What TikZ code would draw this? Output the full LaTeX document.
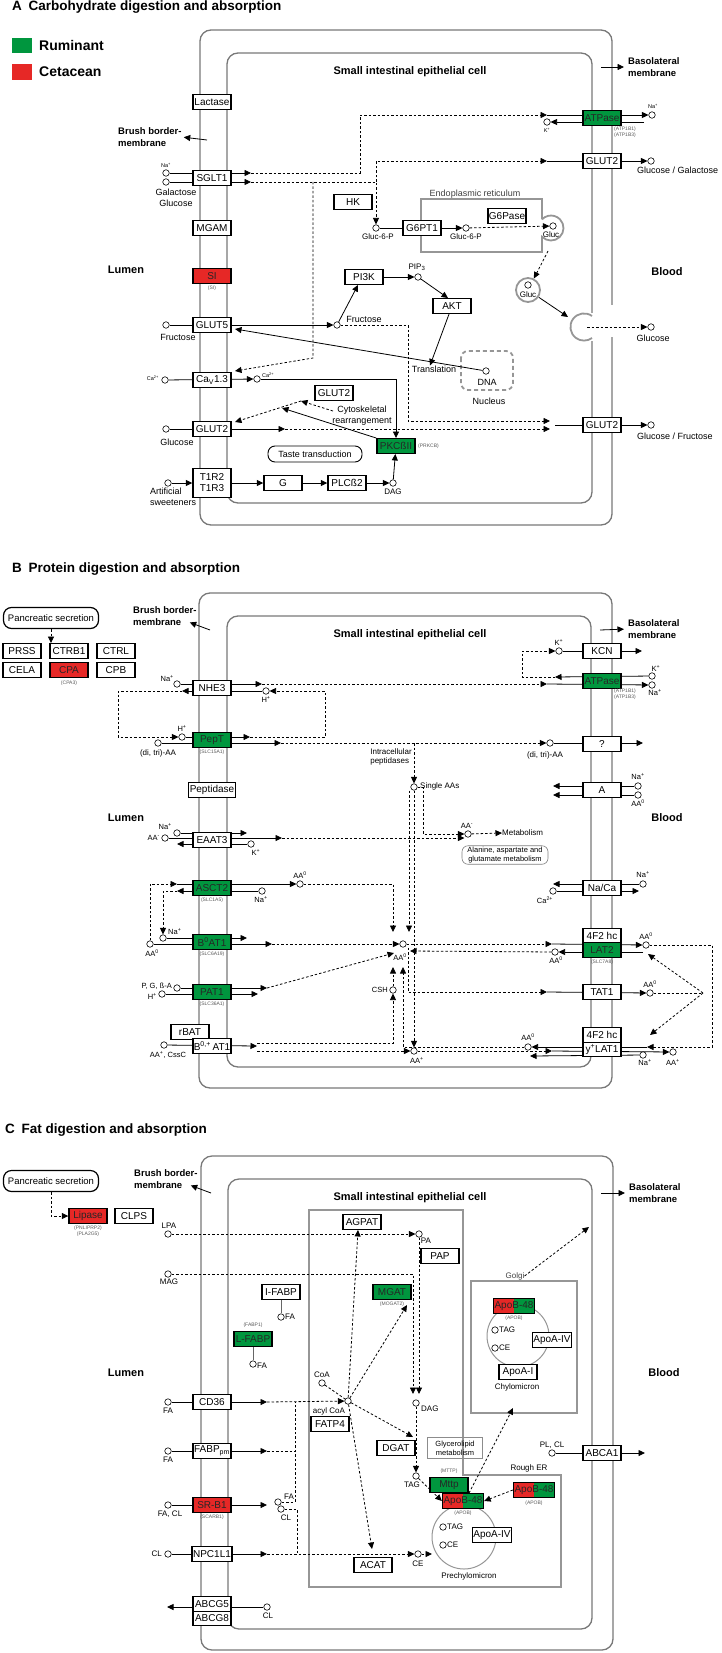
\documentclass[tikz,border=0pt]{standalone}
\usepackage{fontspec}
\setmainfont{Liberation Sans}
\usetikzlibrary{arrows.meta,positioning,backgrounds}
\definecolor{rumgreen}{RGB}{0,150,62}
\definecolor{cetred}{RGB}{230,40,38}
\definecolor{membgray}{RGB}{120,120,120}
\definecolor{orggray}{RGB}{150,150,150}

\begin{document}
\begin{tikzpicture}[x=1pt, y=-1pt,
    box/.style={rectangle, draw=black, line width=1.4pt, fill=white, minimum width=38pt, minimum height=14.5pt, inner xsep=1pt, inner ysep=0pt, font=\fontsize{10}{11}\selectfont},
    rum/.style={box, fill=rumgreen, text=black!85},
    cet/.style={box, fill=cetred, text=black!85},
    apob/.style={box, fill=rumgreen, text=black!85, path picture={\fill[cetred] (path picture bounding box.north west) rectangle ([xshift=20pt]path picture bounding box.south west);}},
    mol/.style={circle, draw=black, line width=0.6pt, fill=white, minimum size=6.5pt, inner sep=0pt},
    lab/.style={font=\fontsize{9}{11}\selectfont, inner sep=0pt, align=center},
    sm/.style={font=\fontsize{8}{9.5}\selectfont, inner sep=0pt, align=center},
    ion/.style={font=\fontsize{7.5}{8}\selectfont, inner sep=0pt},
    ionA/.style={font=\fontsize{5.5}{6}\selectfont, inner sep=0pt},
    gene/.style={font=\fontsize{5}{5.5}\selectfont, inner sep=0pt, align=center, text=black!65},
    hdr/.style={font=\bfseries\fontsize{9.5}{11.5}\selectfont, inner sep=0pt, align=left, anchor=west},
    zone/.style={font=\bfseries\fontsize{11}{13}\selectfont, inner sep=0pt},
    ttl/.style={font=\bfseries\fontsize{13.5}{16}\selectfont, inner sep=0pt, anchor=base west},
    keylab/.style={font=\bfseries\fontsize{14}{16}\selectfont, inner sep=0pt, anchor=west},
    pathway/.style={draw, rounded corners=8pt, line width=1.2pt, minimum width=95pt, minimum height=21pt, font=\fontsize{9.5}{10}\selectfont},
    arr/.style={-{Triangle[length=6.5pt,width=6pt]}, line width=0.8pt},
    dline/.style={line width=0.8pt, dash pattern=on 2.5pt off 2pt},
    dsh/.style={arr, dash pattern=on 2.5pt off 2pt},
    memb/.style={draw=membgray, line width=1.3pt, rounded corners=11pt},
    org/.style={draw=orggray, line width=1.8pt}
]
\useasboundingbox (0,0) rectangle (721,1653);

\node[ttl] (tA) at (12,10.5) {A\enspace Carbohydrate digestion and absorption};
\node[fill=rumgreen, minimum width=20pt, minimum height=15pt, inner sep=0pt] (kRum) at (22,45.5) {};
\node[keylab] (lRum) at (39,45.5) {Ruminant};
\node[fill=cetred, minimum width=20pt, minimum height=16pt, inner sep=0pt] (kCet) at (22,72) {};
\node[keylab] (lCet) at (39,72) {Cetacean};

\node[zone] (cellA) at (410,72) {Small intestinal epithelial cell};
\node[zone] (lumA) at (126,270) {Lumen};
\node[zone] (bldA) at (667,272) {Blood};
\node[hdr] (bbA) at (118,137) {Brush border-\\membrane};
\node[hdr] (blA) at (628,67) {Basolateral\\membrane};

\node[box] (lac) at (212,102) {Lactase};
\node[box] (sglt) at (212,178) {SGLT1};
\node[box] (mgam) at (212,228) {MGAM};
\node[cet] (si) at (212,276) {SI};
\node[gene, below=2pt of si] (siG) {(SI)};
\node[box] (glut5) at (212,325) {GLUT5};
\node[box] (cav) at (212,380) {Ca\textsubscript{V}1.3};
\node[box] (glut2L) at (212,429) {GLUT2};
\node[box, minimum height=29pt, align=center] (t1r) at (212,483) {T1R2\\T1R3};
\node[rum] (atpA) at (602,118) {ATPase};
\node[gene, anchor=west] (atpAG) at (614,132) {(ATP1B1)\\(ATP1B3)};
\node[box] (glut2T) at (602,161) {GLUT2};
\node[box] (glut2B) at (602,425) {GLUT2};

\node[box] (hk) at (353,202) {HK};
\node[box] (g6pt) at (422,228) {G6PT1};
\node[box] (g6pase) at (507,216) {G6Pase};
\node[box] (pi3k) at (364,277) {PI3K};
\node[box] (akt) at (452,306) {AKT};
\node[box] (glut2I) at (334,393) {GLUT2};
\node[rum] (pkc) at (396,446) {PKCßII};
\node[gene, anchor=west] (pkcG) at (418,446) {(PRKCB)};
\node[box] (gp) at (283,483) {G};
\node[box] (plc) at (347,483) {PLCß2};
\node[pathway, minimum width=94pt, minimum height=16pt, rounded corners=7pt, line width=0.9pt, font=\fontsize{9}{10}\selectfont] (taste) at (315,454) {Taste transduction};

\node[mol] (naA) at (166,173) {};
\node[ionA] (naAl) at (166,165) {Na\textsuperscript{+}};
\node[mol] (galA) at (166,182) {};
\node[lab] (galAl) at (176,198) {Galactose\\Glucose};
\node[mol] (kA) at (547,122) {};
\node[ionA] (kAl) at (547,130) {K\textsuperscript{+}};
\node[mol] (naA2) at (652,115) {};
\node[ionA] (naA2l) at (653,106) {Na\textsuperscript{+}};
\node[mol] (ggA) at (651,161) {};
\node[lab, anchor=west] (ggAl) at (637,170) {Glucose / Galactose};
\node[mol] (g6pA) at (376,228) {};
\node[sm] (g6pAl) at (378,237) {Gluc-6-P};
\node[mol] (g6pB) at (466,228) {};
\node[sm] (g6pBl) at (466,237) {Gluc-6-P};
\node[mol] (glucE) at (553,226) {};
\node[sm] (glucEl) at (551,235) {Gluc};
\node[lab, text=black!75] (erl) at (475,194) {Endoplasmic reticulum};
\node[circle, org, minimum size=24pt, inner sep=0pt] (ves) at (528,290) {};
\node[mol] (glucV) at (528,285) {};
\node[sm] (glucVl) at (528,295) {Gluc};
\node[mol] (pip) at (418,277) {};
\node[sm] (pipl) at (417,267) {PIP\textsubscript{3}};
\node[mol] (fruL) at (166,325) {};
\node[lab] (fruLl) at (178,337) {Fructose};
\node[mol] (fruI) at (337,325) {};
\node[lab] (fruIl) at (364,319) {Fructose};
\node[mol] (dna) at (486,371) {};
\node[lab] (dnal) at (487,382) {DNA};
\node[lab] (nucl) at (489,401) {Nucleus};
\node[lab] (trl) at (434,369) {Translation};
\node[mol] (caL) at (165,380) {};
\node[ionA, anchor=east] (caLl) at (159,378) {Ca\textsuperscript{2+}};
\node[mol] (caR) at (257,379) {};
\node[ionA, anchor=west] (caRl) at (262,375) {Ca\textsuperscript{2+}};
\node[lab] (cyt) at (362,416) {Cytoskeletal\\rearrangement};
\node[mol] (glcL) at (166,429) {};
\node[lab] (glcLl) at (177,442) {Glucose};
\node[mol] (glcO) at (651,327) {};
\node[lab] (glcOl) at (653,338) {Glucose};
\node[mol] (gfO) at (651,425) {};
\node[lab, anchor=west] (gfOl) at (637,436) {Glucose / Fructose};
\node[mol] (art) at (168,483) {};
\node[lab, align=left, anchor=north west] (artl) at (150,488) {Artificial\\sweeteners};
\node[mol] (dag) at (393,483) {};
\node[sm] (dagl) at (393,492) {DAG};

\node[ttl] (tB) at (12,572) {B\enspace Protein digestion and absorption};
\node[pathway] (pancB) at (51,618) {Pancreatic secretion};
\node[box] (prss) at (22,651) {PRSS};
\node[box] (ctrb) at (69,651) {CTRB1};
\node[box] (ctrl) at (116,651) {CTRL};
\node[box] (cela) at (22,670) {CELA};
\node[cet] (cpa) at (69,670) {CPA};
\node[gene, below=3pt of cpa] (cpaG) {(CPA3)};
\node[box] (cpb) at (116,670) {CPB};
\node[zone] (cellB) at (410,635) {Small intestinal epithelial cell};
\node[zone] (lumB) at (126,818) {Lumen};
\node[zone] (bldB) at (667,818) {Blood};
\node[hdr] (bbB) at (133,616) {Brush border-\\membrane};
\node[hdr] (blB) at (628,629) {Basolateral\\membrane};

\node[box] (nhe) at (212,688) {NHE3};
\node[rum] (pept) at (212,740) {PepT};
\node[gene, below=2pt of pept] (peptG) {(SLC15A1)};
\node[box, minimum width=47pt] (pepd) at (212,790) {Peptidase};
\node[box] (eaat) at (212,840) {EAAT3};
\node[rum] (asct) at (212,888) {ASCT2};
\node[gene, below=2pt of asct] (asctG) {(SLC1A5)};
\node[rum] (b0at) at (212,942) {B\textsuperscript{0}AT1};
\node[gene, below=2pt of b0at] (b0atG) {(SLC6A19)};
\node[rum] (pat) at (212,992) {PAT1};
\node[gene, below=2pt of pat] (patG) {(SLC36A1)};
\node[box] (rbat) at (190,1032) {rBAT};
\node[box] (b0p) at (212,1046) {B\textsuperscript{0,+}\,AT1};
\node[box] (kcn) at (602,651) {KCN};
\node[rum] (atpB) at (602,681) {ATPase};
\node[gene, anchor=west] (atpBG) at (614,694) {(ATP1B1)\\(ATP1B3)};
\node[box] (unk) at (602,744) {?};
\node[box] (abx) at (602,790) {A};
\node[box] (naca) at (602,888) {Na/Ca};
\node[box] (f2a) at (602,935.5) {4F2 hc};
\node[rum] (lat2) at (602,950) {LAT2};
\node[gene, below=2pt of lat2] (lat2G) {(SLC7A8)};
\node[box] (tat) at (602,992) {TAT1};
\node[box] (f2b) at (602,1035) {4F2 hc};
\node[box] (ylat) at (602,1049.5) {y\textsuperscript{+}LAT1};

\node[mol] (naB1) at (177,684) {};
\node[ion, anchor=east] (naB1l) at (174,679) {Na\textsuperscript{+}};
\node[mol] (hB1) at (266,691) {};
\node[ion] (hB1l) at (266,699) {H\textsuperscript{+}};
\node[mol] (hB2) at (182,737) {};
\node[ion] (hB2l) at (182,728) {H\textsuperscript{+}};
\node[mol] (dtL) at (158,743) {};
\node[sm] (dtLl) at (158,753) {(di, tri)-AA};
\node[mol] (dtR) at (550,743) {};
\node[sm] (dtRl) at (545,755) {(di, tri)-AA};
\node[mol] (kB1) at (559,651) {};
\node[ion] (kB1l) at (559,642) {K\textsuperscript{+}};
\node[mol] (kB2) at (652,676) {};
\node[ion] (kB2l) at (656,668) {K\textsuperscript{+}};
\node[mol] (naB2) at (652,685) {};
\node[ion] (naB2l) at (655,693) {Na\textsuperscript{+}};
\node[sm, align=left] (ipep) at (391,757) {Intracellular\\peptidases};
\node[mol] (sAA) at (414,787) {};
\node[sm, anchor=west] (sAAl) at (420,786) {Single AAs};
\node[mol] (aam) at (468,834) {};
\node[ion] (aaml) at (467,826) {AA\textsuperscript{-}};
\node[sm, anchor=west] (metab) at (502,833) {Metabolism};
\node[draw=black!50, line width=0.6pt, rounded corners=6pt, font=\fontsize{7.5}{8.5}\selectfont, align=center, inner sep=1.5pt, minimum width=86pt] (aag) at (505,855) {Alanine, aspartate and\\glutamate metabolism};
\node[mol] (naB3) at (177,833) {};
\node[ion, anchor=east] (naB3l) at (172,827) {Na\textsuperscript{+}};
\node[mol] (aaB1) at (165,838) {};
\node[ion, anchor=east] (aaB1l) at (160,838) {AA\textsuperscript{-}};
\node[mol] (kB3) at (251,844) {};
\node[ion] (kB3l) at (256,852) {K\textsuperscript{+}};
\node[mol] (aa0B1) at (300,884) {};
\node[ion] (aa0B1l) at (300,875) {AA\textsuperscript{0}};
\node[mol] (naB4) at (262,891) {};
\node[ion] (naB4l) at (261,900) {Na\textsuperscript{+}};
\node[mol] (naB5) at (163,938) {};
\node[ion, anchor=west] (naB5l) at (168,932) {Na\textsuperscript{+}};
\node[mol] (aa0B2) at (150,944) {};
\node[ion] (aa0B2l) at (152,953) {AA\textsuperscript{0}};
\node[mol] (pgb) at (177,988) {};
\node[ion, anchor=east] (pgbl) at (172,986) {P, G, ß-A};
\node[mol] (hB3) at (162,994) {};
\node[ion, anchor=east] (hB3l) at (157,996) {H\textsuperscript{+}};
\node[mol] (aapc) at (164,1045) {};
\node[ion] (aapcl) at (168,1055) {AA\textsuperscript{+}, CssC};
\node[mol] (naB6) at (638,786) {};
\node[ion] (naB6l) at (638,777) {Na\textsuperscript{+}};
\node[mol] (aa0B3) at (638,795) {};
\node[ion] (aa0B3l) at (638,803) {AA\textsuperscript{0}};
\node[mol] (naB7) at (643,884) {};
\node[ion] (naB7l) at (643,875) {Na\textsuperscript{+}};
\node[mol] (caB) at (553,891) {};
\node[ion] (caBl) at (545,900) {Ca\textsuperscript{2+}};
\node[mol] (cent) at (403,944) {};
\node[ion] (centl) at (400,957) {AA\textsuperscript{0}};
\node[mol] (csh) at (393,990) {};
\node[ion, anchor=east] (cshl) at (388,990) {CSH};
\node[mol] (aa0L) at (555,952) {};
\node[ion] (aa0Ll) at (556,960) {AA\textsuperscript{0}};
\node[mol] (aa0R) at (646,945) {};
\node[ion] (aa0Rl) at (646,936) {AA\textsuperscript{0}};
\node[mol] (aa0T) at (650,993) {};
\node[ion] (aa0Tl) at (650,984) {AA\textsuperscript{0}};
\node[mol] (aapB) at (414,1051) {};
\node[ion] (aapBl) at (417,1060) {AA\textsuperscript{+}};
\node[mol] (aa0Y) at (528,1047) {};
\node[ion] (aa0Yl) at (528,1037) {AA\textsuperscript{0}};
\node[mol] (aapR) at (673,1052) {};
\node[ion] (aapRl) at (673,1062) {AA\textsuperscript{+}};
\node[mol] (naB8) at (643,1055) {};
\node[ion] (naB8l) at (645,1063) {Na\textsuperscript{+}};

\node[ttl] (tC) at (5,1133) {C\enspace Fat digestion and absorption};
\node[pathway] (pancC) at (51,1181) {Pancreatic secretion};
\node[cet] (lip) at (88,1216) {Lipase};
\node[gene, below=2pt of lip] (lipG) {(PNLIPRP2)\\(PLA2G5)};
\node[box] (clps) at (134,1216) {CLPS};
\node[zone] (cellC) at (410,1198) {Small intestinal epithelial cell};
\node[zone] (lumC) at (126,1373) {Lumen};
\node[zone] (bldC) at (664,1373) {Blood};
\node[hdr] (bbC) at (134,1179) {Brush border-\\membrane};
\node[hdr] (blC) at (629,1193) {Basolateral\\membrane};

\node[circle, draw=orggray, line width=1pt, minimum size=62pt, inner sep=0pt] (chylo) at (518,1336) {};
\node[circle, draw=orggray, line width=1pt, minimum size=64pt, inner sep=0pt] (pre) at (464,1537) {};
\node[mol] (lpa) at (168,1234) {};
\node[sm] (lpal) at (169,1226) {LPA};
\node[mol] (mag) at (168,1274) {};
\node[sm] (magl) at (169,1282) {MAG};
\node[box] (agpat) at (362,1222) {AGPAT};
\node[mol] (pa) at (419,1234) {};
\node[sm] (pal) at (426,1241) {PA};
\node[box] (pap) at (440,1256) {PAP};
\node[box] (ifabp) at (281,1292) {I-FABP};
\node[mol] (fa1) at (281,1317) {};
\node[sm, anchor=west] (fa1l) at (285,1317) {FA};
\node[rum] (lfabp) at (253,1339) {L-FABP};
\node[gene, above=3pt of lfabp] (lfabpG) {(FABP1)};
\node[mol] (fa2) at (253,1364) {};
\node[sm, anchor=west] (fa2l) at (257,1366) {FA};
\node[rum] (mgat) at (392,1292) {MGAT};
\node[gene, below=2pt of mgat] (mgatG) {(MOGAT2)};
\node[mol] (coa) at (322,1383) {};
\node[sm] (coal) at (322,1375) {CoA};
\node[mol] (acoa) at (348,1401) {};
\node[sm] (acoal) at (329,1411) {acyl CoA};
\node[box] (fatp) at (330,1424) {FATP4};
\node[mol] (dag2) at (416,1403) {};
\node[sm, anchor=west] (dag2l) at (421,1409) {DAG};
\node[box] (dgat) at (396,1448) {DGAT};
\node[draw=black!45, line width=0.9pt, font=\fontsize{7.5}{9}\selectfont, align=center, minimum width=55pt, minimum height=21pt, inner sep=1pt] (glm) at (455,1448) {Glycerolipid\\metabolism};
\node[mol] (tag1) at (416,1476) {};
\node[sm] (tag1l) at (412,1485) {TAG};
\node[rum] (mttp) at (449,1485) {Mttp};
\node[gene, above=3pt of mttp] (mttpG) {(MTTP)};
\node[apob] (apo1) at (463,1501) {ApoB-48};
\node[gene, below=2pt of apo1] (apo1G) {(APOB)};
\node[apob] (apo2) at (534,1490) {ApoB-48};
\node[gene, below=3pt of apo2] (apo2G) {(APOB)};
\node[mol] (tag2) at (443,1527) {};
\node[sm, anchor=west] (tag2l) at (447,1527) {TAG};
\node[mol] (ce2) at (443,1545) {};
\node[sm, anchor=west] (ce2l) at (447,1545) {CE};
\node[box] (apo4b) at (492,1535) {ApoA-IV};
\node[sm] (prel) at (469,1576) {Prechylomicron};
\node[mol] (ce1) at (418,1554) {};
\node[sm] (ce1l) at (418,1564) {CE};
\node[box] (acat) at (373,1565) {ACAT};
\node[sm, text=black!75] (golgl) at (515,1276) {Golgi};
\node[apob] (apo3) at (514,1306) {ApoB-48};
\node[gene, below=2pt of apo3] (apo3G) {(APOB)};
\node[mol] (tag3) at (495,1330) {};
\node[sm, anchor=west] (tag3l) at (499,1330) {TAG};
\node[mol] (ce3) at (495,1348) {};
\node[sm, anchor=west] (ce3l) at (499,1348) {CE};
\node[box] (apo4a) at (552,1340) {ApoA-IV};
\node[box] (apo1a) at (518,1372) {ApoA-I};
\node[sm] (chyl) at (517,1387) {Chylomicron};
\node[sm] (rerl) at (529,1468) {Rough ER};

\node[box] (cd36) at (212,1402) {CD36};
\node[box] (fabp) at (212,1451) {FABP\textsubscript{pm}};
\node[cet] (srb) at (212,1505) {SR-B1};
\node[gene, below=2pt of srb] (srbG) {(SCARB1)};
\node[box] (npc) at (212,1554) {NPC1L1};
\node[box] (abcg5) at (212,1604) {ABCG5};
\node[box] (abcg8) at (212,1618.5) {ABCG8};
\node[box] (abca) at (602,1453) {ABCA1};
\node[mol] (fa3) at (168,1402) {};
\node[sm] (fa3l) at (168,1411) {FA};
\node[mol] (fa4) at (168,1451) {};
\node[sm] (fa4l) at (168,1460) {FA};
\node[mol] (facl) at (168,1505) {};
\node[sm] (facll) at (170,1514) {FA, CL};
\node[mol] (cl1) at (168,1554) {};
\node[sm, anchor=east] (cl1l) at (162,1554) {CL};
\node[mol] (cl2) at (267,1607) {};
\node[sm] (cl2l) at (268,1616) {CL};
\node[mol] (fa5) at (278,1502) {};
\node[sm] (fa5l) at (289,1497) {FA};
\node[mol] (cl3) at (281,1509) {};
\node[sm] (cl3l) at (286,1518) {CL};
\node[mol] (plcl) at (552,1453) {};
\node[sm] (plcll) at (552,1445) {PL, CL};

\coordinate (sgA1) at (251,173);
\coordinate (sgA2) at (251,182);
\coordinate (atpA1) at (547,115);
\coordinate (atpA4) at (644,122);
\coordinate (glA1) at (547,161);
\coordinate (cavA1) at (235,371);
\coordinate (jA1) at (313,182);
\coordinate (g5A1) at (235,329);
\coordinate (erA1) at (548,251);
\coordinate (exoA1) at (568,317);
\coordinate (exoA2) at (587,327);
\coordinate (gcA1) at (550,421);
\coordinate (gcA2) at (550,429);
\coordinate (gcA3) at (555,425);
\coordinate (glA2) at (285,429);
\coordinate (cytA1) at (282,408);
\coordinate (cytA2) at (301,401);
\coordinate (cytA3) at (333,411);
\coordinate (g2A1) at (235,422);
\coordinate (bbA1) at (207,140);
\coordinate (blA1) at (601,67);

\coordinate (bbB1) at (210,630);
\coordinate (blB1) at (600,630);
\coordinate (nhe1) at (262,684);
\coordinate (nhe2) at (182,691);
\coordinate (pep1) at (250,737);
\coordinate (pep2) at (281,743);
\coordinate (atpB1) at (547,684);
\coordinate (atpB2) at (555,677);
\coordinate (kcn1) at (642,651);
\coordinate (unk1) at (643,743);
\coordinate (abx1) at (553,786);
\coordinate (abx2) at (553,795);
\coordinate (ea1) at (247,833);
\coordinate (ea2) at (282,838);
\coordinate (ea3) at (177,844);
\coordinate (as1) at (177,884);
\coordinate (as2) at (177,891);
\coordinate (b01) at (247,938);
\coordinate (b02) at (272,944);
\coordinate (pa1) at (267,988);
\coordinate (pa2) at (258,994);
\coordinate (bp1) at (257,1046);
\coordinate (nc1) at (553,884);
\coordinate (nc2) at (639,891);
\coordinate (cT1) at (393,932);
\coordinate (cT2) at (409,932);
\coordinate (cT3) at (394,953);
\coordinate (cT4) at (393,967);
\coordinate (cT6) at (403,967);
\coordinate (cT7) at (410,951);
\coordinate (lt1) at (552,944);
\coordinate (lt2) at (643,952);
\coordinate (lt3) at (648,954);
\coordinate (tt1) at (547,992);
\coordinate (tj) at (703,993);
\coordinate (yl1) at (647,1047);
\coordinate (yl2) at (650,1035);
\coordinate (yl3) at (552,1051);
\coordinate (yl4) at (530,1056);

\coordinate (bbC1) at (211,1193);
\coordinate (blC1) at (601,1193);
\coordinate (dA1) at (413,1394);
\coordinate (dA2) at (419,1394);
\coordinate (dA3) at (413,1437);
\coordinate (mA) at (407,1305);
\coordinate (acA) at (372,1549);
\coordinate (cd1) at (267,1402);
\coordinate (fb1) at (267,1451);
\coordinate (sr1) at (267,1505);
\coordinate (np1) at (267,1554);
\coordinate (ab1) at (167,1607);
\coordinate (abc1) at (645,1453);
\coordinate (vj1) at (295,1402);
\coordinate (vj3) at (297,1554);
\coordinate (pr1) at (432,1554);
\coordinate (gm1) at (589,1227);
\coordinate (chA) at (513,1408);

\begin{scope}[on background layer]
\draw[memb] (200,30) rectangle (612,525);
\draw[memb] (227,53) rectangle (592,503);
\draw[memb] (199,593) rectangle (612,1088);
\draw[memb] (227,616) rectangle (591,1067);
\draw[memb] (201,1156) rectangle (613,1650);
\draw[memb] (228,1179) rectangle (592,1629);
\fill[white] (588,313) rectangle (596,341);
\fill[white] (608,305) rectangle (616,337);
\draw[org] (592,316) arc[start angle=-54, end angle=-306, radius=13.6];
\draw[org] (542,219.3) -- (542,199) -- (421,199) -- (421,252) -- (542,252) -- (542,236.7) arc[start angle=136, end angle=-136, radius=12.5];
\draw[draw=orggray, line width=1.8pt, dash pattern=on 4pt off 3pt, rounded corners=7pt] (461,351) rectangle (513,390);
\draw[draw=orggray, line width=1.3pt] (309,1210) -- (463,1210) -- (463,1475) -- (561,1475) -- (561,1587) -- (309,1587) -- cycle;
\draw[draw=orggray, line width=1.3pt] (471,1281) rectangle (577,1413);

\draw[arr, shorten >=2pt] (bbA1) -- (bbA.east);
\draw[arr, shorten >=4pt] (blA1) -- (blA.west);
\draw[arr] (naA) -- (sgA1);
\draw[arr] (galA) -- (sgA2);
\draw[dsh] (sgA1) -- ++(109,0) |- (atpA1);
\draw[arr] (atpA1) -- (naA2);
\draw[arr] (atpA4) -- (kA);
\draw[dsh] (sgA2) -| (g6pA);
\draw[dsh] (g6pA |- sgA2) |- (glA1);
\draw[arr] (glA1) -- (ggA);
\draw[dsh] (jA1) -- ++(0,176) -- (cavA1);
\draw (g6pA) -- (g6pt);
\draw[arr] (g6pt) -- (g6pB);
\draw[dsh] (g6pB) -- (glucE);
\draw[dsh] (erA1) -- (ves);
\draw[arr] (ves) -- (exoA1);
\draw[dsh] (exoA2) -- (glcO);
\draw[arr] (fruL) -- (fruI);
\draw[arr] (fruI) -- ([xshift=-6pt]pi3k.south);
\draw[arr] (pi3k) -- (pip);
\draw[arr] (pip) -- ([xshift=-4pt]akt.north);
\draw[arr] (akt) -- ([xshift=-4pt]trl.north);
\draw[arr] (dna) -- (g5A1);
\draw[dsh] (fruI) -- ++(71,0) |- (gcA1);
\draw[arr] (glcL) -- (glA2);
\draw[dsh] (glA2) -- (gcA2);
\draw[arr] (gcA3) -- (gfO);
\draw[arr] (caL) -- (caR);
\draw[arr] (caR) -| (pkc);
\draw[arr] (art) -- (t1r);
\draw[arr] (t1r) -- (gp);
\draw[arr] (gp) -- (plc);
\draw[arr] (plc) -- (dag);
\draw[arr] (dag) -- (pkc);
\draw[arr] (pkc.north west) -- (cytA1);
\draw[dsh] (cytA3) -- (cytA2);
\draw[dsh] (cytA2) -- (g2A1);

\draw[arr] (bbB1) -- ([xshift=-7pt,yshift=3pt]bbB.south east);
\draw[arr, shorten >=4pt] (blB1) -- (blB.west);
\draw[dsh] (pancB.south) -- (pancB.south |- ctrb.north);
\draw[arr] (naB1) -- (nhe1);
\draw[arr] (hB1) -- (nhe2);
\draw[dsh] (nhe2) -- ++(-64,0) |- (hB2);
\draw[arr] (hB2) -- (pep1);
\draw[dsh] (pep1) -- ++(75,0) |- (hB1);
\draw[dsh] (nhe1) -- (atpB1);
\draw[arr] (atpB1) -- (naB2);
\draw[arr] (kB2) -- (atpB2);
\draw[dsh] (atpB2) -- ++(-33,0) |- (kB1);
\draw[arr] (kB1) -- (kcn1);
\draw[arr] (dtL) -- (pep2);
\draw[dsh] (pep2) -- (dtR);
\draw[arr] (dtR) -- (unk1);
\draw[dsh] (sAA |- pep2) -- (sAA);
\draw[arr] (naB6) -- (abx1);
\draw[arr] (aa0B3) -- (abx2);
\draw[arr] (naB3) -- (ea1);
\draw[arr] (aaB1) -- (ea2);
\draw[dsh] (ea2) -- (ea2 -| aam.west);
\draw[dsh] (sAA) -- ++(9,0) |- (aam);
\draw[dsh] (aam) -- (metab.west);
\draw[arr] (kB3) -- (ea3);
\draw[dsh] (aa0B2) |- (as1);
\draw[arr] (as1) -- (aa0B1);
\draw[arr] (naB4) -- (as2);
\draw[dsh] (as2) -| (naB5);
\draw[dsh] (aa0B1) -| (cT1);
\draw[arr] (naB5) -- (b01);
\draw[arr] (aa0B2) -- (b02);
\draw[dsh] (b02) -- (cent);
\draw[arr] (pgb) -- (pa1);
\draw[arr] (hB3) -- (pa2);
\draw[dsh] (pa1) -- (cT3);
\draw[arr] (aapc) -- (bp1);
\draw[dsh] ([yshift=3pt]bp1) -| (csh);
\draw[dsh] ([yshift=-5pt]bp1) -- (aapB);
\draw[dsh] (csh) -- (cT4);
\draw[dsh] ([xshift=-5pt]sAA.south) -- (cT2);
\draw[dsh] (sAA) -- (aapB);
\draw[dsh] (aa0Y) -| (cT6);
\draw[dsh] ([xshift=5pt]cent.south) |- (tt1);
\draw[dsh] (cent) -- (lt1);
\draw[arr] (lt1) -- (aa0R);
\draw[arr] (lt2) -- (aa0L);
\draw[dsh] (aa0L) -- (cT7);
\draw[dsh] (aa0R) -- ++(66,0) |- (yl1);
\draw[arr] (yl1) -- (aa0Y);
\draw[arr] (tt1) -- (aa0T);
\draw[dline] (aa0T) -- (tj);
\draw[dsh] (tj) -- (lt3);
\draw[dsh] (tj) -- (yl2);
\draw[dsh] (aapB) -- (yl3);
\draw[arr] (yl3) -- (aapR);
\draw[arr] (naB8) -- (yl4);
\draw[arr] (naB7) -- (nc1);
\draw[arr] (caB) -- (nc2);

\draw[arr] (bbC1) -- ([xshift=-7pt,yshift=3pt]bbC.south east);
\draw[arr, shorten >=4pt] (blC1) -- (blC.west);
\draw[dsh] (pancC) |- (lip);
\draw[dsh] (lpa) -- (pa);
\draw[dsh] (mag) -| (dA1);
\draw[dsh] (pa) -- (dA2);
\draw[dsh] (dag2) -- (tag1);
\draw[dsh] (tag1) -- (apo1.west);
\draw[dline] (coa) -- (acoa);
\draw[dsh] (acoa) -- ([xshift=-4pt]agpat.south);
\draw[dsh] (acoa) -- (mA);
\draw[dsh] (acoa) -- (dA3);
\draw[dsh] (acoa) -- (acA);
\draw[arr] (fa3) -- (cd1);
\draw[dsh] (cd1) -- (acoa);
\draw[arr] (fa4) -- (fb1);
\draw[dline] (fb1) -- (fb1 -| vj1);
\draw[arr] (facl) -- (sr1);
\draw[dline] (fa5) -| (vj1);
\draw[dline] (cl3) -| (vj3);
\draw[arr] (cl1) -- (np1);
\draw[dsh] (np1) -- (ce1);
\draw[dsh] (ce1) -- (pr1);
\draw[arr] (cl2) -- (ab1);
\draw[arr] (plcl) -- (abc1);
\draw[dsh] (golgl.east) -- (gm1);
\draw[dsh] ([xshift=6pt]apo1.north) -- (chA);
\draw[dsh] (apo2.west) -- (apo1.east);
\draw[line width=1pt, draw=black!60] (ifabp) -- (fa1);
\draw[line width=1pt, draw=black!60] (lfabp) -- (fa2);
\end{scope}
\end{tikzpicture}
\end{document}
